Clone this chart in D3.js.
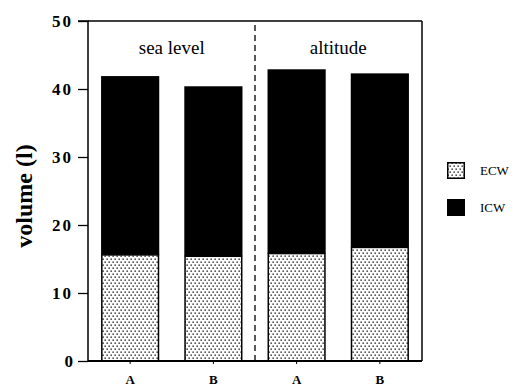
<!DOCTYPE html>
<html>
<head>
<meta charset="utf-8">
<script src="https://cdn.jsdelivr.net/npm/d3@7"></script>
<style>
  body { margin: 0; background: #fff; }
  svg { display: block; }
</style>
</head>
<body>
<script>
const groups = ["sea level", "altitude"];
const categories = ["A", "B", "A", "B"];
const barGroup = [0, 0, 1, 1];
const ecw = [15.6, 15.4, 15.8, 16.7];
const total = [41.9, 40.4, 42.9, 42.3];
const yTicks = [0, 10, 20, 30, 40, 50];
const legendLabels = ["ECW", "ICW"];

const width = 516, height = 388;
const margin = {top: 21, right: 94, bottom: 27, left: 88};
const innerW = width - margin.left - margin.right;
const innerH = height - margin.top - margin.bottom;

const svg = d3.select("body").append("svg")
    .attr("width", width)
    .attr("height", height);

// dotted fill used for ECW
const defs = svg.append("defs");
const pat = defs.append("pattern")
    .attr("id", "dots")
    .attr("patternUnits", "userSpaceOnUse")
    .attr("width", 4)
    .attr("height", 6);
pat.append("rect").attr("width", 4).attr("height", 6).attr("fill", "#fff");
pat.append("rect").attr("x", 0.5).attr("y", 0.5).attr("width", 1.3).attr("height", 1.3).attr("fill", "#000");
pat.append("rect").attr("x", 2.5).attr("y", 3.5).attr("width", 1.3).attr("height", 1.3).attr("fill", "#000");

const g = svg.append("g").attr("transform", `translate(${margin.left},${margin.top})`);

const x = d3.scaleBand()
    .domain(d3.range(categories.length))
    .range([0, innerW])
    .paddingInner(0.301)
    .paddingOuter(0.157);

const y = d3.scaleLinear().domain([0, 50]).range([innerH, 0]);

// frame
g.append("line").attr("x1", 0).attr("x2", innerW).attr("y1", 0).attr("y2", 0)
    .attr("stroke", "#000").attr("stroke-width", 1.3);
g.append("line").attr("x1", innerW).attr("x2", innerW).attr("y1", 0).attr("y2", innerH)
    .attr("stroke", "#000").attr("stroke-width", 1.5);

// divider between groups
const divX = (x(1) + x.bandwidth() + x(2)) / 2;
g.append("line")
    .attr("x1", divX).attr("x2", divX)
    .attr("y1", 4).attr("y2", innerH)
    .attr("stroke", "#000")
    .attr("stroke-width", 1.3)
    .attr("stroke-dasharray", "6,4");

// ICW (top part, black)
g.selectAll(".icw").data(total).join("rect")
    .attr("class", "icw")
    .attr("x", (d, i) => x(i))
    .attr("y", d => y(d))
    .attr("width", x.bandwidth())
    .attr("height", (d, i) => y(ecw[i]) - y(d))
    .attr("fill", "#000");

// ECW (bottom part, dotted)
g.selectAll(".ecw").data(ecw).join("rect")
    .attr("class", "ecw")
    .attr("x", (d, i) => x(i) + 0.75)
    .attr("y", d => y(d))
    .attr("width", x.bandwidth() - 1.5)
    .attr("height", d => y(0) - y(d))
    .attr("fill", "url(#dots)")
    .attr("stroke", "#000")
    .attr("stroke-width", 1.5);

// group labels
groups.forEach((name, gi) => {
    const idx = barGroup.map((b, i) => b === gi ? i : -1).filter(i => i >= 0);
    const cx = (x(idx[0]) + x(idx[idx.length - 1]) + x.bandwidth()) / 2;
    g.append("text")
        .attr("x", cx)
        .attr("y", 33)
        .attr("text-anchor", "middle")
        .attr("font-family", "Liberation Serif, serif")
        .attr("font-size", 19)
        .text(name);
});

// y axis
const yAxis = g.append("g")
    .call(d3.axisLeft(y).tickValues(yTicks).tickSize(10).tickFormat(d => d));
yAxis.select(".domain").attr("stroke-width", 1.5).attr("d", `M-10,0H0V${innerH}`);
yAxis.selectAll(".tick line").attr("stroke-width", 1.3);
yAxis.selectAll(".tick text")
    .attr("x", -15)
    .attr("font-family", "Liberation Serif, serif")
    .attr("font-weight", "bold")
    .attr("font-size", 17)
    .attr("letter-spacing", d => d === 0 ? 0 : 2)
    .attr("fill", "#000");

// x axis
const xAxis = g.append("g")
    .attr("transform", `translate(0,${innerH})`)
    .call(d3.axisBottom(x).tickSize(3).tickFormat(i => categories[i]));
xAxis.select(".domain").attr("stroke-width", 2).attr("d", `M0,0H${innerW}`);
xAxis.selectAll(".tick text")
    .attr("y", 14)
    .attr("font-family", "Liberation Serif, serif")
    .attr("font-weight", "bold")
    .attr("font-size", 13)
    .attr("fill", "#000");

// y label
svg.append("text")
    .attr("transform", `translate(32,196) rotate(-90)`)
    .attr("text-anchor", "middle")
    .attr("font-family", "Liberation Serif, serif")
    .attr("font-weight", "bold")
    .attr("font-size", 24)
    .text("volume (l)");

// legend
const legend = svg.append("g").attr("transform", "translate(447,162)");
legendLabels.forEach((lab, i) => {
    const row = legend.append("g").attr("transform", `translate(0,${i * 37})`);
    row.append("rect")
        .attr("x", 0.75).attr("y", 0.75)
        .attr("width", 16.5).attr("height", 15.5)
        .attr("fill", i === 0 ? "url(#dots)" : "#000")
        .attr("stroke", "#000")
        .attr("stroke-width", 1.5);
    row.append("text")
        .attr("x", 33)
        .attr("y", 13)
        .attr("font-family", "Liberation Serif, serif")
        .attr("font-size", 13)
        .text(lab);
});
</script>
</body>
</html>
